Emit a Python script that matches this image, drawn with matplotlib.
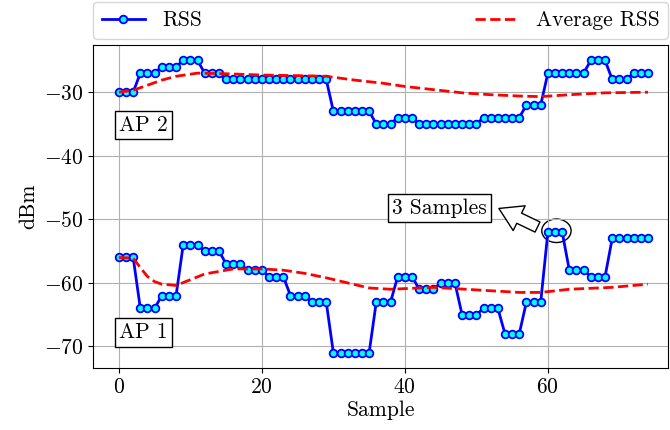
import matplotlib
matplotlib.use('Agg')
import matplotlib.pyplot as plt
from matplotlib.patches import Ellipse

plt.rcParams['font.family'] = 'cmr10'
plt.rcParams['mathtext.fontset'] = 'cm'
plt.rcParams['axes.formatter.use_mathtext'] = True
plt.rcParams['font.size'] = 15.5

# RSS samples (dBm) for the two access points
samples = list(range(75))
rss_ap2 = [-30, -30, -30, -27, -27, -27, -26, -26, -26, -25, -25, -25, -27, -27, -27,
           -28, -28, -28, -28, -28, -28, -28, -28, -28, -28, -28, -28, -28, -28, -28,
           -33, -33, -33, -33, -33, -33, -35, -35, -35, -34, -34, -34,
           -35, -35, -35, -35, -35, -35, -35, -35, -35, -34, -34, -34, -34, -34, -34,
           -32, -32, -32, -27, -27, -27, -27, -27, -27, -25, -25, -25,
           -28, -28, -28, -27, -27, -27]
rss_ap1 = [-56, -56, -56, -64, -64, -64, -62, -62, -62, -54, -54, -54, -55, -55, -55,
           -57, -57, -57, -58, -58, -58, -59, -59, -59, -62, -62, -62, -63, -63, -63,
           -71, -71, -71, -71, -71, -71, -63, -63, -63, -59, -59, -59, -61, -61, -61,
           -60, -60, -60, -65, -65, -65, -64, -64, -64, -68, -68, -68, -63, -63, -63,
           -52, -52, -52, -58, -58, -58, -59, -59, -59, -53, -53, -53, -53, -53, -53]

# average RSS curves
avg2_x = [0, 2, 4, 6, 8, 11, 15, 20, 25, 29, 33, 37, 40, 44, 48, 52, 56, 59, 63, 68, 74]
avg2_y = [-30, -29.7, -28.9, -28.1, -27.5, -27.0, -27.1, -27.3, -27.4, -27.5, -28.1,
          -28.6, -29.1, -29.6, -30.1, -30.4, -30.6, -30.7, -30.4, -30.1, -30.0]
avg1_x = [0, 2, 3, 4, 5, 6, 8, 10, 12, 16, 20, 23, 26, 29, 32, 35, 38, 44, 50, 56, 59, 63, 69, 74]
avg1_y = [-56.0, -56.1, -57.6, -59.0, -59.8, -60.2, -60.4, -59.5, -58.6, -57.8, -57.8, -58.0,
          -58.5, -59.2, -60.0, -60.8, -61.0, -60.7, -61.1, -61.5, -61.5, -61.0, -60.7, -60.2]

fig = plt.figure(figsize=(6.7, 4.3), dpi=100)
ax = fig.add_axes([0.139, 0.144, 0.858, 0.751])

style = dict(color='blue', lw=2, marker='o', markersize=5.5,
             markerfacecolor='cyan', markeredgecolor='blue', markeredgewidth=1.3)
ax.plot(samples, rss_ap2, label='RSS', **style)
ax.plot(samples, rss_ap1, **style)
ax.plot(avg2_x, avg2_y, 'r--', lw=2, label='Average RSS')
ax.plot(avg1_x, avg1_y, 'r--', lw=2)

box = dict(boxstyle='square,pad=0.2', fc='white', ec='black')
ax.text(0, -35.2, 'AP 2', va='center', ha='left', bbox=box)
ax.text(0, -67.8, 'AP 1', va='center', ha='left', bbox=box)

ax.add_patch(Ellipse((61.2, -51.8), 4.1, 3.7, fill=False, ec='black', lw=1))
ax.annotate('', xy=(52.8, -48.1), xytext=(58.9, -51.4),
            arrowprops=dict(arrowstyle='simple,head_length=0.9,head_width=1.1,tail_width=0.45',
                            mutation_scale=18, fc='white', ec='black', lw=1))
ax.text(44.8, -48.2, '3 Samples', va='center', ha='center', bbox=box)

ax.set_xlim(-3.6, 76.8)
ax.set_ylim(-73.4, -22.6)
ax.set_xticks([0, 20, 40, 60])
ax.set_yticks([-70, -60, -50, -40, -30])
ax.set_xlabel('Sample', labelpad=2)
ax.set_ylabel('dBm')
ax.grid(True)

ax.legend(bbox_to_anchor=(0., 1.02, 1., 0.102), loc='lower left', ncol=2,
          mode='expand', borderaxespad=0.)

fig.savefig('out.png', dpi=100)
